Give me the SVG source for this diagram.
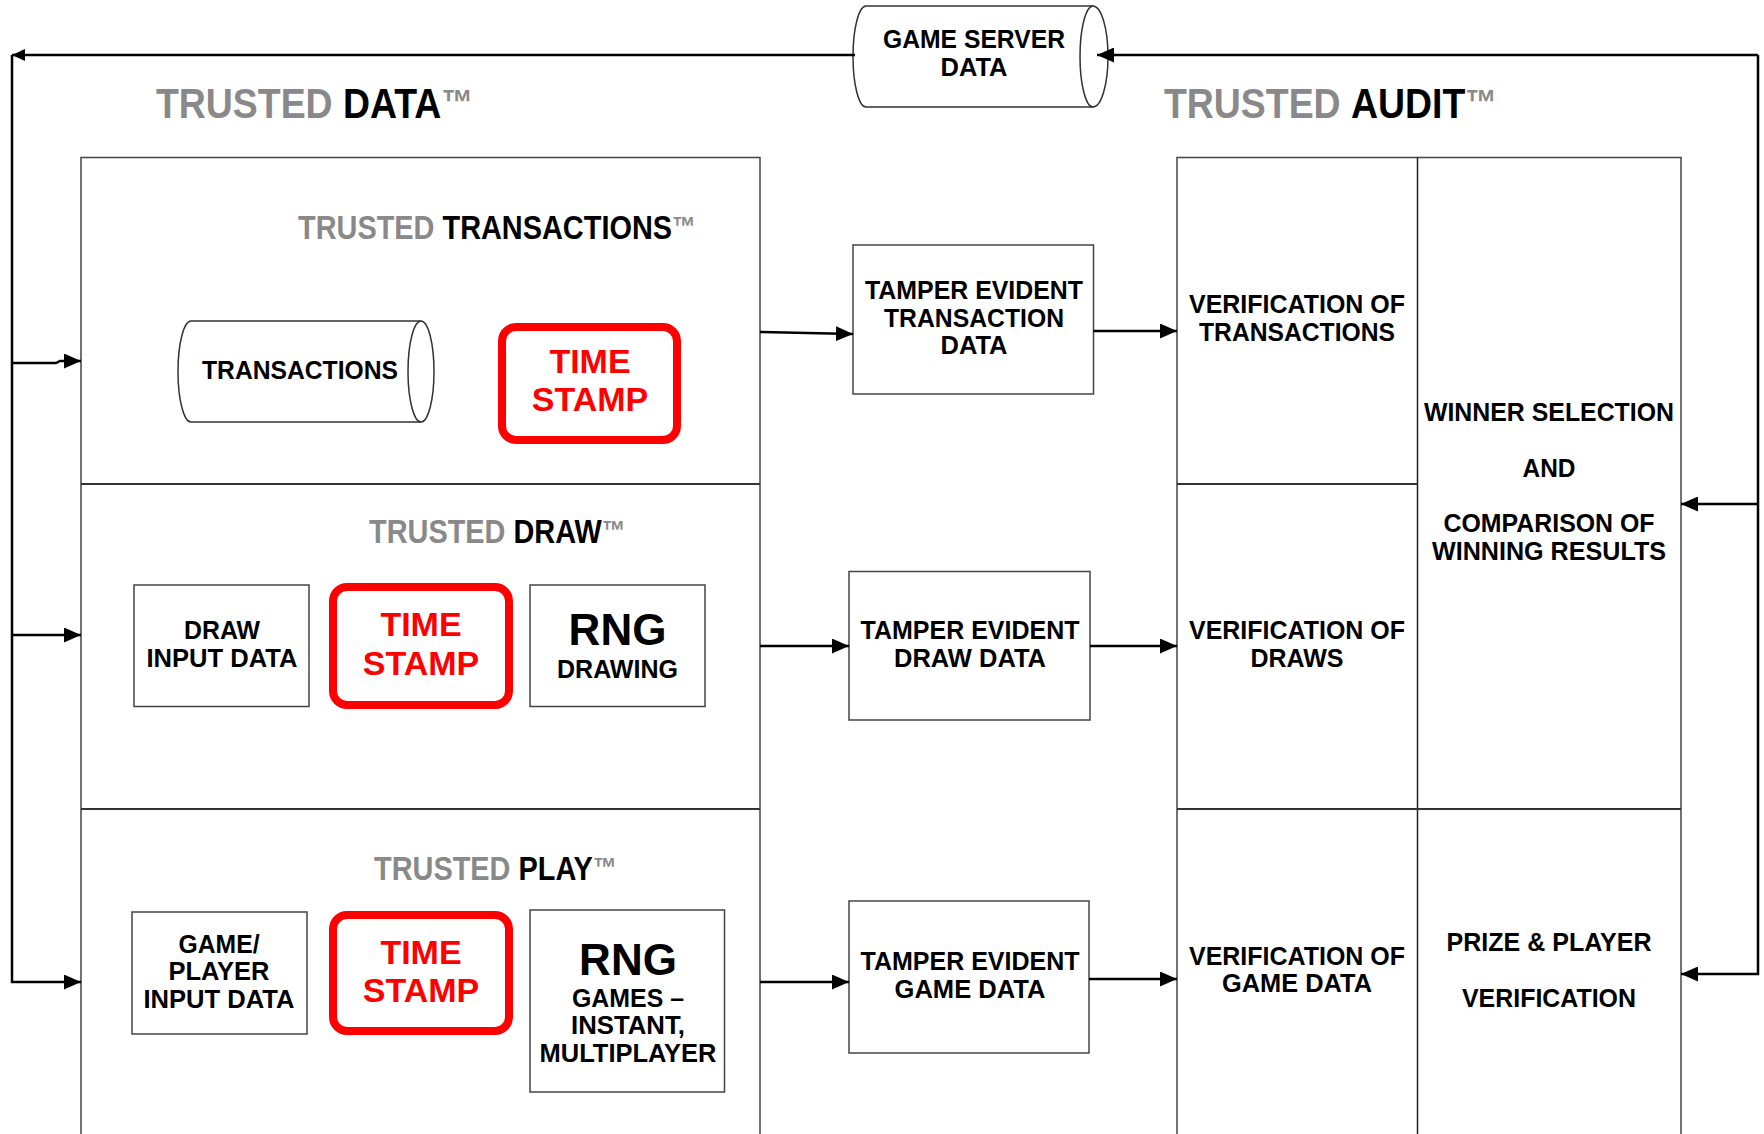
<svg xmlns="http://www.w3.org/2000/svg" width="1764" height="1134" viewBox="0 0 1764 1134">
<style>
.bx{fill:#fff;stroke:#444;stroke-width:1.5}
.cy{fill:#fff;stroke:#333;stroke-width:1.5}
.ts{fill:#fff;stroke:#f00;stroke-width:8}
.t{font-family:"Liberation Sans",Arial,sans-serif;font-weight:bold;font-size:25px;fill:#000;text-anchor:middle}
.tr{font-family:"Liberation Sans",Arial,sans-serif;font-weight:bold;font-size:34px;fill:#f00;text-anchor:middle}
.rng{font-family:"Liberation Sans",Arial,sans-serif;font-weight:bold;font-size:44px;fill:#000;text-anchor:middle}
.hd{font-family:"Liberation Sans",Arial,sans-serif;font-weight:bold;fill:#000}
.g{fill:#898989}
.ln{fill:none;stroke:#000;stroke-width:2.5}
</style>
<defs>
<marker id="ah" markerWidth="17" markerHeight="15" refX="17" refY="7.5" orient="auto" markerUnits="userSpaceOnUse"><path d="M0,0 L17,7.5 L0,15 Z" fill="#000"/></marker>
<marker id="as" markerWidth="13" markerHeight="12" refX="13" refY="6" orient="auto" markerUnits="userSpaceOnUse"><path d="M0,0 L13,6 L0,12 Z" fill="#000"/></marker>
</defs>
<rect width="1764" height="1134" fill="#fff"/>

<g id="titles">
<text class="hd" font-size="43" transform="translate(156,118) scale(0.87,1)"><tspan class="g">TRUSTED </tspan><tspan>DATA</tspan><tspan class="g" font-size="36" dy="-3">™</tspan></text>
<text class="hd" font-size="43" transform="translate(1164,118) scale(0.87,1)"><tspan class="g">TRUSTED </tspan><tspan>AUDIT</tspan><tspan class="g" font-size="36" dy="-3">™</tspan></text>
</g>

<g id="trusted-data">
<rect class="bx" x="81" y="157.5" width="679" height="990"/>
<line x1="81" y1="484" x2="760" y2="484" stroke="#333" stroke-width="2"/>
<line x1="81" y1="809" x2="760" y2="809" stroke="#333" stroke-width="2"/>
</g>

<g id="trusted-transactions">
<text class="hd" font-size="34" transform="translate(298,239) scale(0.85,1)"><tspan class="g">TRUSTED </tspan><tspan>TRANSACTIONS</tspan><tspan class="g" font-size="28" dy="-3">™</tspan></text>
</g>
<g id="transactions">
<path class="cy" d="M191,321 L421,321 A13,50.5 0 0 1 421,422 L191,422 A13,50.5 0 0 1 191,321 Z"/>
<path class="cy" d="M421,321 A13,50.5 0 0 0 421,422"/>
<text class="t" x="300" y="379" textLength="196" lengthAdjust="spacingAndGlyphs">TRANSACTIONS</text>
</g>
<g id="timestamp-1">
<rect class="ts" x="502" y="327" width="175" height="113" rx="14"/>
<text class="tr" x="590" y="373">TIME</text>
<text class="tr" x="590" y="411">STAMP</text>
</g>

<g id="trusted-draw">
<text class="hd" font-size="34" transform="translate(369,543) scale(0.85,1)"><tspan class="g">TRUSTED </tspan><tspan>DRAW</tspan><tspan class="g" font-size="28" dy="-3">™</tspan></text>
</g>
<g id="draw-input">
<rect class="bx" x="134" y="585" width="175" height="121.5"/>
<text class="t" x="222" y="639" textLength="76" lengthAdjust="spacingAndGlyphs">DRAW</text>
<text class="t" x="222" y="667" textLength="151" lengthAdjust="spacingAndGlyphs">INPUT DATA</text>
</g>
<g id="timestamp-2">
<rect class="ts" x="333" y="587" width="176" height="118" rx="14"/>
<text class="tr" x="421" y="636">TIME</text>
<text class="tr" x="421" y="675">STAMP</text>
</g>
<g id="rng-drawing">
<rect class="bx" x="530" y="585" width="175" height="121.5"/>
<text class="rng" x="617.5" y="645">RNG</text>
<text class="t" x="617.5" y="678" textLength="121" lengthAdjust="spacingAndGlyphs">DRAWING</text>
</g>

<g id="trusted-play">
<text class="hd" font-size="34" transform="translate(374,880) scale(0.85,1)"><tspan class="g">TRUSTED </tspan><tspan>PLAY</tspan><tspan class="g" font-size="28" dy="-3">™</tspan></text>
</g>
<g id="game-player-input">
<rect class="bx" x="132" y="912" width="175" height="122"/>
<text class="t" x="219" y="953" textLength="81" lengthAdjust="spacingAndGlyphs">GAME/</text>
<text class="t" x="219" y="980" textLength="101" lengthAdjust="spacingAndGlyphs">PLAYER</text>
<text class="t" x="219" y="1008" textLength="151" lengthAdjust="spacingAndGlyphs">INPUT DATA</text>
</g>
<g id="timestamp-3">
<rect class="ts" x="333" y="915" width="176" height="116" rx="14"/>
<text class="tr" x="421" y="964">TIME</text>
<text class="tr" x="421" y="1002">STAMP</text>
</g>
<g id="rng-games">
<rect class="bx" x="530" y="910" width="194.5" height="182"/>
<text class="rng" x="628" y="975">RNG</text>
<text class="t" x="628" y="1007" textLength="112" lengthAdjust="spacingAndGlyphs">GAMES –</text>
<text class="t" x="628" y="1034" textLength="114" lengthAdjust="spacingAndGlyphs">INSTANT,</text>
<text class="t" x="628" y="1062" textLength="177" lengthAdjust="spacingAndGlyphs">MULTIPLAYER</text>
</g>

<g id="game-server-data">
<path class="cy" d="M866,6 L1093,6 A15,50.5 0 0 1 1093,107 L866,107 A13,50.5 0 0 1 866,6 Z"/>
<path class="cy" d="M1093,6 A13,50.5 0 0 0 1093,107"/>
<text class="t" x="974" y="48" textLength="182" lengthAdjust="spacingAndGlyphs">GAME SERVER</text>
<text class="t" x="974" y="76" textLength="67" lengthAdjust="spacingAndGlyphs">DATA</text>
</g>

<g id="tamper-transaction">
<rect class="bx" x="853" y="245" width="240.5" height="149"/>
<text class="t" x="974" y="299" textLength="218" lengthAdjust="spacingAndGlyphs">TAMPER EVIDENT</text>
<text class="t" x="974" y="327" textLength="180" lengthAdjust="spacingAndGlyphs">TRANSACTION</text>
<text class="t" x="974" y="354" textLength="67" lengthAdjust="spacingAndGlyphs">DATA</text>
</g>
<g id="tamper-draw">
<rect class="bx" x="849" y="571.5" width="241" height="148.5"/>
<text class="t" x="970" y="639" textLength="219" lengthAdjust="spacingAndGlyphs">TAMPER EVIDENT</text>
<text class="t" x="970" y="667" textLength="152" lengthAdjust="spacingAndGlyphs">DRAW DATA</text>
</g>
<g id="tamper-game">
<rect class="bx" x="849" y="901" width="240" height="152"/>
<text class="t" x="970" y="970" textLength="219" lengthAdjust="spacingAndGlyphs">TAMPER EVIDENT</text>
<text class="t" x="970" y="998" textLength="151" lengthAdjust="spacingAndGlyphs">GAME DATA</text>
</g>

<g id="trusted-audit">
<rect class="bx" x="1177" y="157.5" width="504" height="990"/>
<line x1="1417.5" y1="157.5" x2="1417.5" y2="1134" stroke="#222" stroke-width="1.5"/>
<line x1="1177" y1="484" x2="1417.5" y2="484" stroke="#333" stroke-width="2"/>
<line x1="1177" y1="809" x2="1681" y2="809" stroke="#333" stroke-width="2"/>
</g>
<g id="verify-transactions">
<text class="t" x="1297" y="313" textLength="216" lengthAdjust="spacingAndGlyphs">VERIFICATION OF</text>
<text class="t" x="1297" y="341" textLength="196" lengthAdjust="spacingAndGlyphs">TRANSACTIONS</text>
</g>
<g id="winner-selection">
<text class="t" x="1549" y="421" textLength="250" lengthAdjust="spacingAndGlyphs">WINNER SELECTION</text>
<text class="t" x="1549" y="477" textLength="53" lengthAdjust="spacingAndGlyphs">AND</text>
<text class="t" x="1549" y="532" textLength="211" lengthAdjust="spacingAndGlyphs">COMPARISON OF</text>
<text class="t" x="1549" y="560" textLength="234" lengthAdjust="spacingAndGlyphs">WINNING RESULTS</text>
</g>
<g id="verify-draws">
<text class="t" x="1297" y="639" textLength="216" lengthAdjust="spacingAndGlyphs">VERIFICATION OF</text>
<text class="t" x="1297" y="667" textLength="93" lengthAdjust="spacingAndGlyphs">DRAWS</text>
</g>
<g id="verify-game-data">
<text class="t" x="1297" y="965" textLength="216" lengthAdjust="spacingAndGlyphs">VERIFICATION OF</text>
<text class="t" x="1297" y="992" textLength="150" lengthAdjust="spacingAndGlyphs">GAME DATA</text>
</g>
<g id="prize-player">
<text class="t" x="1549" y="951" textLength="205" lengthAdjust="spacingAndGlyphs">PRIZE &amp; PLAYER</text>
<text class="t" x="1549" y="1007" textLength="174" lengthAdjust="spacingAndGlyphs">VERIFICATION</text>
</g>

<g id="connectors">
<path class="ln" d="M855,55 H12" marker-end="url(#as)" stroke-width="1.8"/>
<path class="ln" d="M12,55 V982 H81" marker-end="url(#ah)"/>
<path class="ln" d="M12,363 H56 L60,361 H81" marker-end="url(#ah)"/>
<path class="ln" d="M12,635 H81" marker-end="url(#ah)"/>
<path class="ln" d="M1758,55 H1097" marker-end="url(#ah)" stroke-width="1.8"/>
<path class="ln" d="M1758,55 V974 H1681" marker-end="url(#ah)"/>
<path class="ln" d="M1758,504 H1681" marker-end="url(#ah)"/>
<path class="ln" d="M760,332 L853,334" marker-end="url(#ah)"/>
<path class="ln" d="M1093.5,331 H1177" marker-end="url(#ah)"/>
<path class="ln" d="M760,646 H849" marker-end="url(#ah)"/>
<path class="ln" d="M1090,646 H1177" marker-end="url(#ah)"/>
<path class="ln" d="M760,982 H849" marker-end="url(#ah)"/>
<path class="ln" d="M1089,979 H1177" marker-end="url(#ah)"/>
</g>
</svg>
